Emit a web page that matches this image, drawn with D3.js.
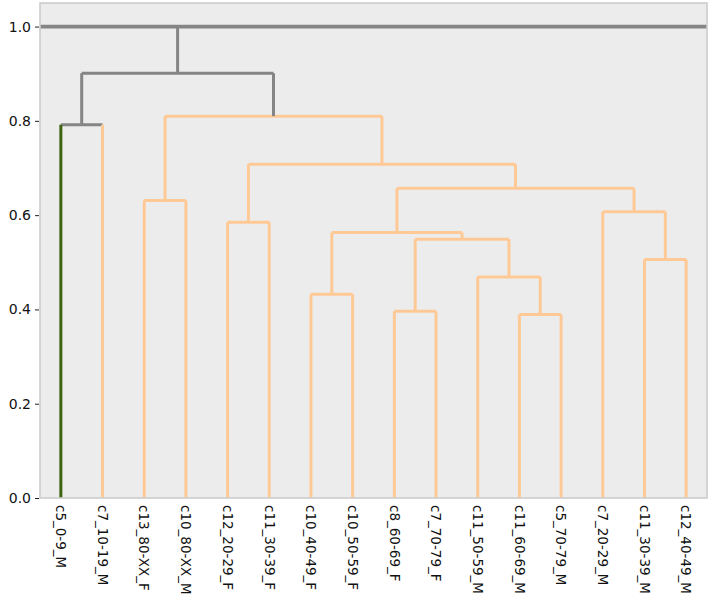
<!DOCTYPE html>
<html>
<head>
<meta charset="utf-8">
<script src="https://cdn.jsdelivr.net/npm/d3@7"></script>
<style>
  html, body { margin: 0; padding: 0; background: #fff; }
  svg { display: block; font-family: "DejaVu Sans", sans-serif; }
</style>
</head>
<body>
<div id="chart"></div>
<script>
// leaves in dendrogram order
const leaves = [
  "c5_0-9_M", "c7_10-19_M", "c13_80-XX_F", "c10_80-XX_M", "c12_20-29_F",
  "c11_30-39_F", "c10_40-49_F", "c10_50-59_F", "c8_60-69_F", "c7_70-79_F",
  "c11_50-59_M", "c11_60-69_M", "c5_70-79_M", "c7_20-29_M", "c11_30-39_M",
  "c12_40-49_M",
];

// merges: [left child, right child, height]; ids 0..15 are leaves, new ids start at 16
const merges = [
  [0, 1, 0.792],    // 16
  [2, 3, 0.631],    // 17
  [4, 5, 0.585],    // 18
  [6, 7, 0.432],    // 19
  [8, 9, 0.396],    // 20
  [11, 12, 0.389],  // 21
  [10, 21, 0.469],  // 22
  [20, 22, 0.549],  // 23
  [19, 23, 0.563],  // 24
  [14, 15, 0.506],  // 25
  [13, 25, 0.607],  // 26
  [24, 26, 0.657],  // 27
  [18, 27, 0.708],  // 28
  [17, 28, 0.810],  // 29
  [16, 29, 0.901],  // 30
];
const mergeColors = [
  "grey", "orange", "orange", "orange", "orange", "orange", "orange", "orange",
  "orange", "orange", "orange", "orange", "orange", "orange", "grey",
];
const leafColors = leaves.map((d) => (d === "c5_0-9_M" ? "green" : "orange"));
const rootHeight = 1.0;
const yTicks = [0.0, 0.2, 0.4, 0.6, 0.8, 1.0];

const COLORS = { grey: "#858585", orange: "#ffc996", green: "#3d6410" };

const W = 718, H = 605;
const M = { left: 40, right: 11, top: 3, bottom: 107 };

const svg = d3.select("#chart").append("svg")
  .attr("width", W).attr("height", H);

// scipy style: leaf i sits at 5 + 10*i
const x = d3.scaleLinear().domain([0, leaves.length * 10]).range([M.left, W - M.right]);
const y = d3.scaleLinear().domain([0, 1.05]).range([H - M.bottom, M.top]);

svg.append("rect")
  .attr("x", M.left).attr("y", M.top)
  .attr("width", W - M.left - M.right).attr("height", H - M.top - M.bottom)
  .attr("fill", "#ececec");

// node positions
const pos = leaves.map((d, i) => ({ x: 5 + 10 * i, h: 0 }));
merges.forEach(([a, b, h]) => pos.push({ x: (pos[a].x + pos[b].x) / 2, h }));

const g = svg.append("g").attr("fill", "none").attr("stroke-width", 3);

function seg(x1, y1, x2, y2, color) {
  g.append("line")
    .attr("x1", x(x1)).attr("y1", y(y1))
    .attr("x2", x(x2)).attr("y2", y(y2))
    .attr("stroke", COLORS[color]);
}

// horizontal line at root height across the whole axis
svg.append("line")
  .attr("x1", x(0)).attr("x2", x(leaves.length * 10))
  .attr("y1", y(rootHeight)).attr("y2", y(rootHeight))
  .attr("stroke", COLORS.grey).attr("stroke-width", 3.8);

const rootNode = pos[pos.length - 1];
seg(rootNode.x, rootNode.h, rootNode.x, rootHeight, "grey");

merges.forEach(([a, b, h], i) => {
  const c = mergeColors[i];
  seg(pos[a].x, h, pos[b].x, h, c);
  [a, b].forEach((k) => {
    const lc = k < leaves.length ? leafColors[k] : c;
    seg(pos[k].x, pos[k].h, pos[k].x, h, lc);
  });
});

// frame
svg.append("rect")
  .attr("x", M.left).attr("y", M.top)
  .attr("width", W - M.left - M.right).attr("height", H - M.top - M.bottom)
  .attr("fill", "none").attr("stroke", "#cccccc").attr("stroke-width", 1.6);

// y axis
const yAxis = svg.append("g")
  .attr("transform", `translate(${M.left - 1},0)`)
  .call(d3.axisLeft(y).tickValues(yTicks).tickFormat(d3.format(".1f")).tickSize(4).tickPadding(4));
yAxis.select(".domain").remove();
yAxis.selectAll(".tick line").attr("stroke", "#222").attr("stroke-width", 1);
yAxis.selectAll(".tick text")
  .style("font-family", "DejaVu Sans").style("font-size", "14px").attr("fill", "#111");

// leaf labels
svg.append("g").selectAll("text").data(leaves).join("text")
  .attr("transform", (d, i) => `translate(${x(5 + 10 * i)},${H - M.bottom + 7}) rotate(90)`)
  .attr("dy", "0.35em")
  .style("font-size", "13.5px")
  .attr("fill", "#111")
  .text((d) => d);
</script>
</body>
</html>
